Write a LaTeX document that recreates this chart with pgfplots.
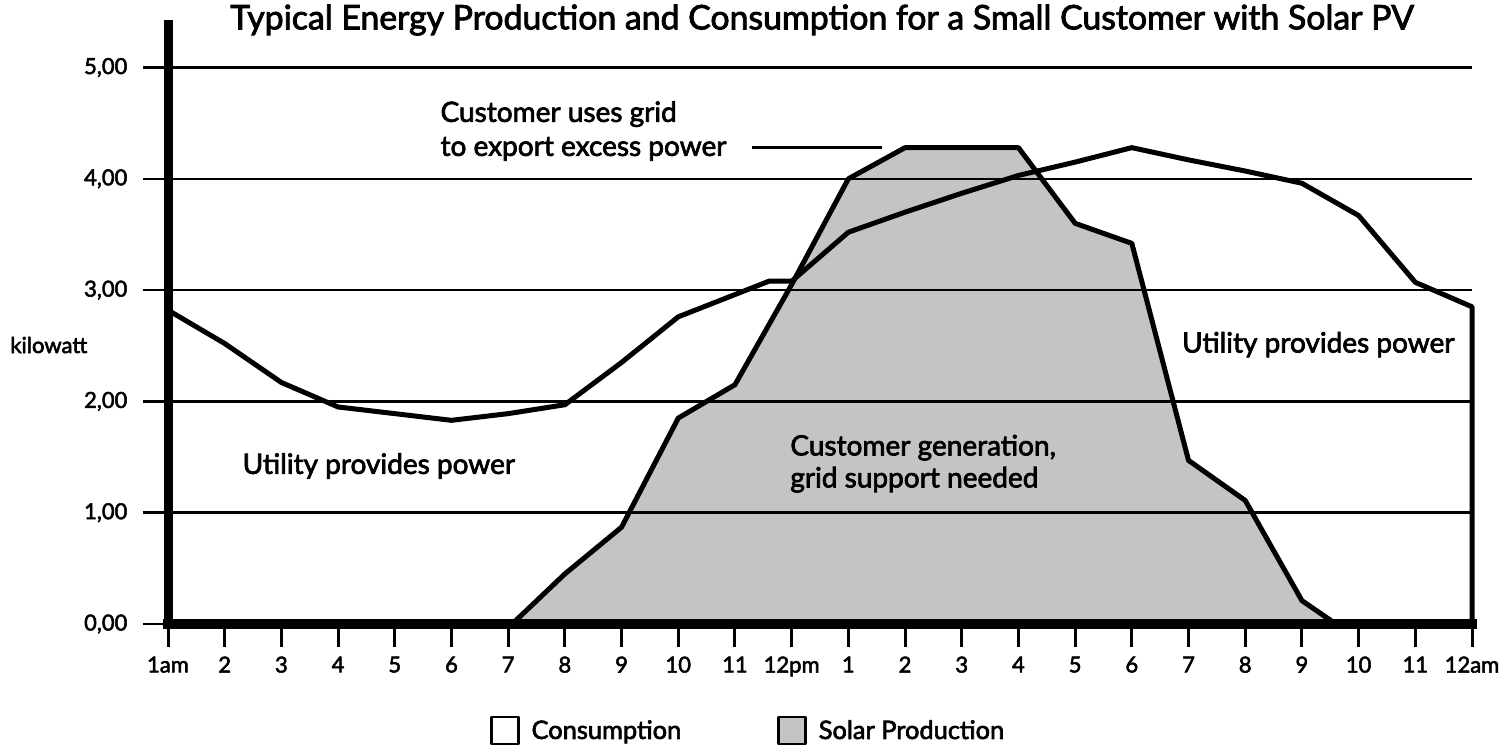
\documentclass[border=0pt]{standalone}
\usepackage{pgfplots}
\pgfplotsset{compat=1.18}
\usepackage{fontspec}
\setmainfont{Lato}[FakeBold=2.5]
\definecolor{solargray}{RGB}{196,196,196}
\begin{document}
\begin{tikzpicture}
\useasboundingbox (0,0) rectangle (750pt,377pt);
\begin{axis}[
  at={(84pt,65pt)}, anchor=south west,
  scale only axis, width=652pt, height=302pt,
  xmin=1, xmax=24, ymin=0, ymax=5.427,
  axis lines=left,
  axis line style={-},
  x axis line style={line width=5.2pt, line cap=rect},
  y axis line style={line width=4.5pt},
  axis on top,
  tick align=outside,
  ytick={0,1,2,3,4,5},
  yticklabels={{0,00},{1,00},{2,00},{3,00},{4,00},{5,00}},
  xtick={1,...,24},
  xticklabels={1am,2,3,4,5,6,7,8,9,10,11,12pm,1,2,3,4,5,6,7,8,9,10,11,12am},
  ymajorgrids,
  grid style={line width=1.2pt, black},
  y tick style={line width=1.2pt, black, /pgfplots/major tick length=12.5pt},
  x tick style={line width=1.5pt, black, /pgfplots/major tick length=11.5pt},
  yticklabel style={font=\fontsize{11}{13}\selectfont, xshift=-12.5pt},
  xticklabel style={font=\fontsize{11}{13}\selectfont, yshift=-8.5pt},
  legend style={at={(0.4456,-0.177)}, anchor=center, draw=none,
    font=\fontsize{12.7}{15}\selectfont, legend columns=2,
    /tikz/every odd column/.append style={column sep=4pt},
    /tikz/every even column/.append style={column sep=46pt}},
  reverse legend,
  clip=false,
]
\addplot[draw=black, line width=2.5pt, fill=solargray, line join=round,
  legend image code/.code={\draw[line width=1.3pt, fill=solargray] (0pt,-6.5pt) rectangle (13.5pt,7pt);}]
  coordinates {(7.07,0) (8,0.45) (9,0.87) (10,1.85) (11,2.15) (12,3.05) (13,4.00)
  (14,4.28) (16,4.28) (17,3.60) (18,3.42) (19,1.47) (20,1.11) (21,0.21) (21.6,0)} \closedcycle;
\addplot[draw=black, line width=2.5pt, line join=round,
  legend image code/.code={\draw[line width=1.3pt, fill=white] (0pt,-6.5pt) rectangle (13.5pt,7pt);}]
  coordinates {(1,2.82) (2,2.52) (3,2.17) (4,1.95) (5,1.89) (6,1.83) (7,1.89) (8,1.97)
  (9,2.35) (10,2.76) (11,2.96) (11.6,3.08) (12,3.08) (13,3.52) (14,3.70) (15,3.87)
  (16,4.03) (17,4.15) (18,4.28) (19,4.17) (20,4.07) (21,3.96) (22,3.67) (23,3.07) (24,2.85)} \closedcycle;
\legend{Solar Production, Consumption}
\draw[line width=1.3pt] (axis cs:11.30,4.28) -- (axis cs:13.59,4.28);
\node[anchor=west, align=left, font=\fontsize{14}{17}\selectfont, inner sep=0pt] at (axis cs:5.80,4.43) {Customer uses grid\\to export excess power};
\node[anchor=west, align=left, font=\fontsize{14}{16}\selectfont, inner sep=0pt] at (axis cs:11.97,1.44) {Customer generation,\\grid support needed};
\node[anchor=west, font=\fontsize{14}{16}\selectfont, inner sep=0pt] at (axis cs:2.31,1.42) {Utility provides power};
\node[anchor=west, font=\fontsize{14}{16}\selectfont, inner sep=0pt] at (axis cs:18.88,2.51) {Utility provides power};
\end{axis}
\node[anchor=west, font=\fontsize{11}{13}\selectfont, inner sep=0pt] at (5pt,204.5pt) {kilowatt};
\node[font=\fontsize{16.9}{20}\selectfont, inner sep=0pt] at (411pt,367pt) {Typical Energy Production and Consumption for a Small Customer with Solar PV};
\end{tikzpicture}
\end{document}
